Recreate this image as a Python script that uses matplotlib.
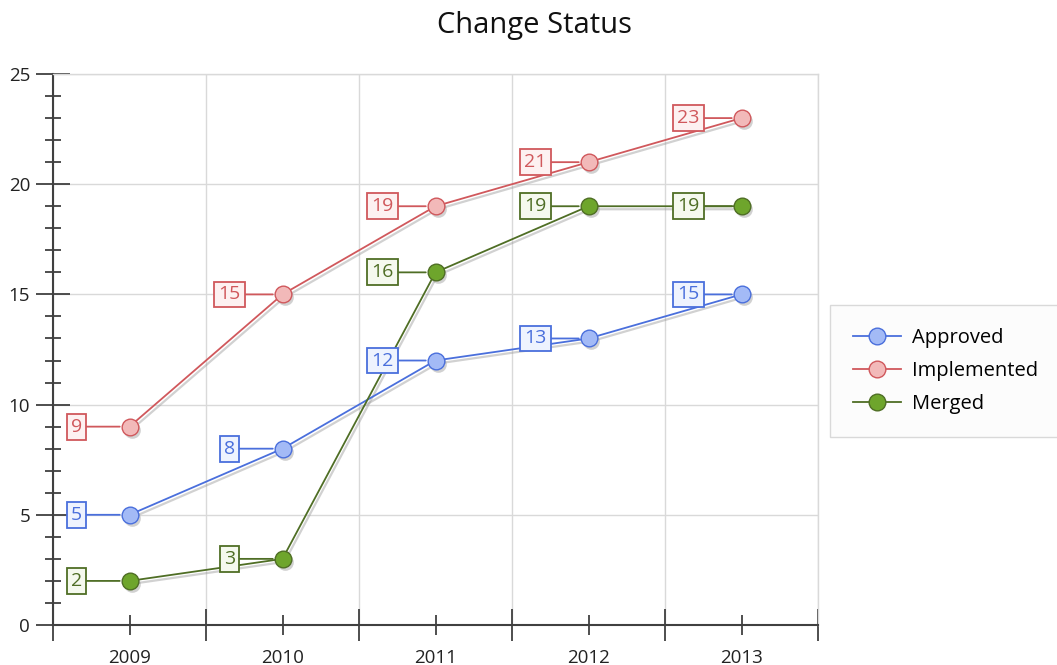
import matplotlib
matplotlib.use("Agg")
import matplotlib.pyplot as plt
from matplotlib.transforms import offset_copy
from matplotlib.ticker import FixedLocator, MultipleLocator

plt.rcParams['font.family'] = ['Open Sans', 'DejaVu Sans']

years = ['2009', '2010', '2011', '2012', '2013']
approved = [5, 8, 12, 13, 15]
implemented = [9, 15, 19, 21, 23]
merged = [2, 3, 16, 19, 19]

series = [
    ('Approved', approved, '#4a6fdc', '#a3baf6', '#eef3fe'),
    ('Implemented', implemented, '#d0585c', '#f2b9b9', '#fdf1f1'),
    ('Merged', merged, '#4f6e25', '#6ea52c', '#f5f9ee'),
]

fig = plt.figure(figsize=(10.57, 6.65), dpi=100)
ax = fig.add_axes([53 / 1057, 1 - 625 / 665, (818 - 53) / 1057, (625 - 74) / 665])

x = list(range(len(years)))
shadow = offset_copy(ax.transData, fig=fig, x=2, y=-3, units='dots')

handles = []
for name, vals, line_c, fill_c, box_c in series:
    # soft drop shadow under each series
    ax.plot(x, vals, color='#9a9a9a', lw=1.6, alpha=0.45, marker='o', ms=12,
            mfc='#9a9a9a', mec='none', transform=shadow, zorder=2)
    h, = ax.plot(x, vals, color=line_c, lw=1.3, marker='o', ms=12,
                 mfc=fill_c, mec=line_c, mew=1.0, label=name, zorder=4)
    handles.append(h)
    for xi, v in zip(x, vals):
        ax.annotate(str(v), xy=(xi, v), xytext=(-53, 0), textcoords='offset pixels',
                    ha='center', va='center', fontsize=14, color=line_c,
                    bbox=dict(boxstyle='square,pad=0.2', fc=box_c, ec=line_c, lw=1.3),
                    arrowprops=dict(arrowstyle='-', color=line_c, lw=1.3,
                                    shrinkA=0, shrinkB=7),
                    zorder=5)

ax.set_xlim(-0.5, 4.5)
ax.set_ylim(0, 25)

ax.set_xticks(x)
ax.set_xticklabels(years)
ax.xaxis.set_minor_locator(FixedLocator([-0.5, 0.5, 1.5, 2.5, 3.5, 4.5]))
ax.yaxis.set_major_locator(MultipleLocator(5))
ax.yaxis.set_minor_locator(MultipleLocator(1))

ax.tick_params(axis='x', which='major', direction='inout', length=14, width=1.3,
               color='#404040', labelsize=13.5, pad=10, labelcolor='#222222')
ax.tick_params(axis='x', which='minor', direction='inout', length=23, width=1.3,
               color='#404040')
ax.tick_params(axis='y', which='major', direction='inout', length=25, width=1.3,
               color='#404040', labelsize=13.5, pad=4, labelcolor='#222222')
ax.tick_params(axis='y', which='minor', direction='inout', length=12, width=1.3,
               color='#404040')

ax.grid(True, axis='y', which='major', color='#d9d9d9', lw=1.0, zorder=0)
ax.grid(True, axis='x', which='minor', color='#d9d9d9', lw=1.0, zorder=0)
ax.set_axisbelow(True)

for side in ('left', 'bottom'):
    ax.spines[side].set_color('#404040')
    ax.spines[side].set_linewidth(1.5)
for side in ('top', 'right'):
    ax.spines[side].set_color('#d9d9d9')
    ax.spines[side].set_linewidth(1.0)

fig.text(534 / 1057, 1 - 25 / 665, 'Change Status', ha='center', va='center',
         fontsize=21, color='#111111')

leg = fig.legend(handles=handles, loc='center left',
                 bbox_to_anchor=(830 / 1057, 1 - 371 / 665),
                 fontsize=14.5, frameon=True, fancybox=False, handlelength=2.4,
                 labelspacing=0.65, borderpad=1.15, handletextpad=0.5,
                 borderaxespad=0)
leg.get_frame().set_edgecolor('#d0d0d0')
leg.get_frame().set_facecolor('#fcfcfc')
leg.get_frame().set_linewidth(1.0)

fig.savefig('out.png', dpi=100)
